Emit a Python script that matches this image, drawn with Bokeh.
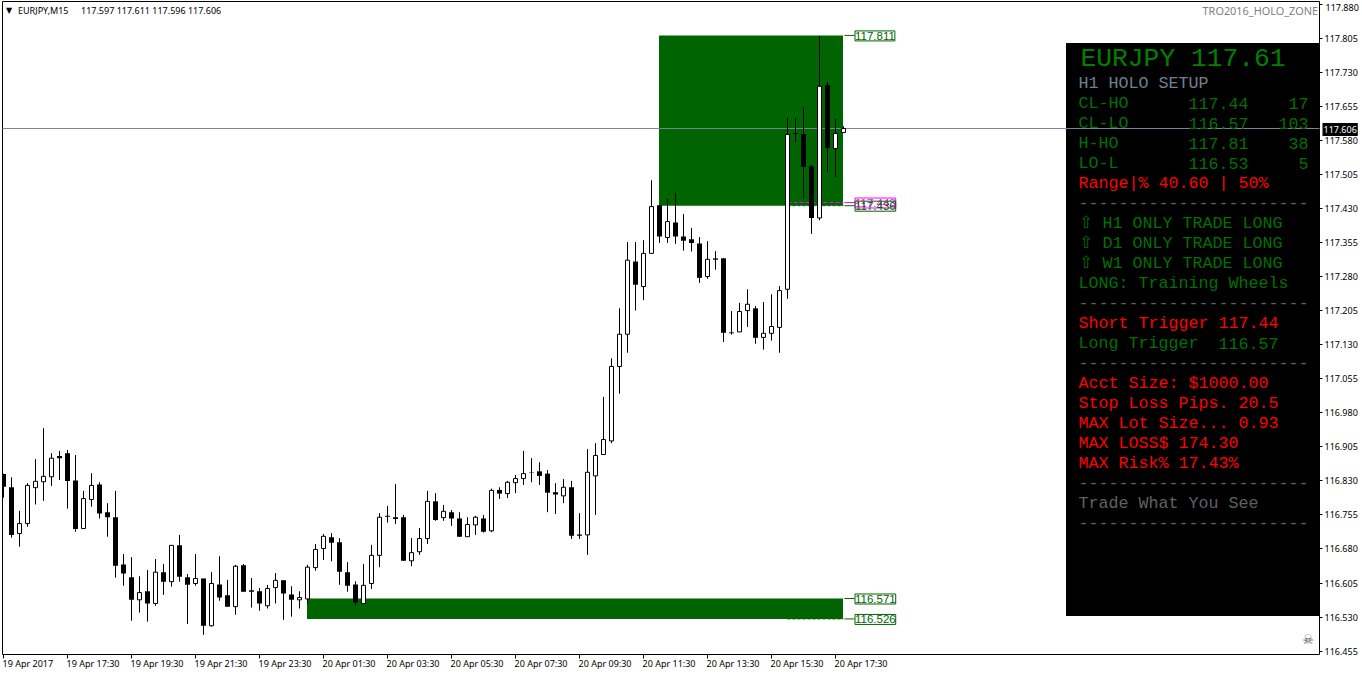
from bokeh.embed import file_html
from bokeh.resources import INLINE
from bokeh.plotting import figure
from bokeh.models import FixedTicker, Label, NumeralTickFormatter

opens = [116.845,116.816,116.714,116.736,116.815,116.828,116.839,116.885,116.891,116.831,116.725,116.789,116.822,116.761,116.750,116.646,116.618,116.568,116.587,116.560,116.629,116.608,116.688,116.618,116.604,116.615,116.511,116.602,116.578,116.553,116.644,116.589,116.587,116.555,116.595,116.611,116.580,116.568,116.570,116.639,
 116.681,116.706,116.695,116.629,116.602,116.560,116.604,116.666,116.753,116.750,116.750,116.654,116.674,116.703,116.785,116.749,116.761,116.747,116.707,116.733,116.747,116.720,116.810,116.802,116.826,116.835,116.849,116.851,116.846,116.805,116.797,116.816,116.712,116.711,116.841,116.888,116.918,117.082,117.153,117.313,117.258,117.331,
 117.437,117.366,117.399,117.368,117.362,117.353,117.280,117.320,117.320,117.157,117.158,117.205,117.210,117.146,117.155,117.168,117.252,117.596,117.594,117.523,117.409,117.702,117.562,117.597]
highs = [116.846,116.838,116.764,116.825,116.878,116.946,116.891,116.896,116.898,116.887,116.808,116.847,116.827,116.781,116.808,116.669,116.662,116.620,116.634,116.658,116.647,116.688,116.711,116.625,116.669,116.615,116.629,116.664,116.612,116.645,116.647,116.616,116.594,116.601,116.627,116.611,116.598,116.587,116.645,116.691,
 116.713,116.715,116.704,116.651,116.609,116.647,116.689,116.759,116.775,116.823,116.755,116.704,116.726,116.808,116.803,116.777,116.766,116.761,116.750,116.753,116.755,116.813,116.816,116.830,116.843,116.896,116.880,116.871,116.854,116.825,116.834,116.830,116.759,116.900,116.913,117.015,117.100,117.210,117.356,117.356,117.360,117.492,
 117.437,117.451,117.464,117.418,117.387,117.367,117.358,117.336,117.321,117.204,117.222,117.252,117.215,117.224,117.241,117.259,117.629,117.629,117.653,117.526,117.810,117.708,117.627,117.611]
lows = [116.793,116.705,116.685,116.729,116.778,116.786,116.819,116.832,116.769,116.718,116.725,116.773,116.747,116.707,116.617,116.599,116.522,116.540,116.520,116.555,116.579,116.597,116.608,116.515,116.599,116.491,116.509,116.566,116.553,116.535,116.586,116.551,116.544,116.549,116.560,116.524,116.531,116.549,116.560,116.632,
 116.656,116.653,116.601,116.586,116.555,116.560,116.592,116.640,116.738,116.735,116.654,116.642,116.667,116.691,116.742,116.742,116.731,116.707,116.707,116.711,116.716,116.717,116.790,116.792,116.803,116.821,116.827,116.821,116.761,116.757,116.781,116.702,116.702,116.667,116.755,116.888,116.913,117.022,117.112,117.205,117.228,117.331,
 117.354,117.354,117.352,117.337,117.335,117.266,117.275,117.295,117.136,117.152,117.158,117.169,117.132,117.119,117.139,117.112,117.231,117.576,117.451,117.374,117.404,117.512,117.499,117.596]
closes = [116.817,116.711,116.736,116.820,116.829,116.840,116.880,116.880,116.830,116.724,116.791,116.820,116.758,116.750,116.643,116.626,116.568,116.584,116.560,116.629,116.608,116.688,116.619,116.601,116.615,116.511,116.604,116.573,116.553,116.642,116.586,116.586,116.560,116.593,116.611,116.582,116.568,116.573,116.640,116.679,
 116.708,116.694,116.630,116.599,116.562,116.600,116.666,116.750,116.751,116.746,116.654,116.672,116.703,116.785,116.744,116.763,116.747,116.707,116.734,116.750,116.718,116.809,116.802,116.827,116.835,116.846,116.848,116.841,116.804,116.800,116.816,116.709,116.709,116.849,116.886,116.921,117.082,117.153,117.316,117.262,117.331,117.434,
 117.368,117.401,117.368,117.359,117.354,117.277,117.318,117.317,117.156,117.155,117.203,117.219,117.145,117.155,117.170,117.249,117.593,117.594,117.521,117.409,117.699,117.563,117.595,117.606]

y_ticks = [117.880,117.805,117.730,117.655,117.580,117.505,117.430,117.355,117.280,117.205,117.130,117.055,116.980,116.905,116.830,116.755,116.680,116.605,116.530,116.455]
x_tick_idx = [0,8,16,24,32,40,48,56,64,72,80,88,96,104]
x_tick_labels = ["19 Apr 2017","19 Apr 17:30","19 Apr 19:30","19 Apr 21:30","19 Apr 23:30","20 Apr 01:30","20 Apr 03:30","20 Apr 05:30","20 Apr 07:30","20 Apr 09:30","20 Apr 11:30","20 Apr 13:30","20 Apr 15:30","20 Apr 17:30"]

upper_zone = (117.811, 117.436)
lower_zone = (116.571, 116.526)
upper_zone_start, lower_zone_start, zone_end = 82, 38, 105
bid = 117.606
magenta_level = 117.443
level_lines_start = 98

TXT_GREEN = "#007000"
panel_rows = [
    ("H1 HOLO SETUP", 82.5, "#708090", 0),
    ("CL-HO", 102.5, TXT_GREEN, 0), ("117.44", 102.5, TXT_GREEN, 11), ("17", 102.5, TXT_GREEN, 21),
    ("CL-LO", 122.5, TXT_GREEN, 0), ("116.57", 122.5, TXT_GREEN, 11), ("103", 122.5, TXT_GREEN, 20),
    ("H-HO", 142.5, TXT_GREEN, 0), ("117.81", 142.5, TXT_GREEN, 11), ("38", 142.5, TXT_GREEN, 21),
    ("LO-L", 162.5, TXT_GREEN, 0), ("116.53", 162.5, TXT_GREEN, 11), ("5", 162.5, TXT_GREEN, 22),
    ("Range|% 40.60 | 50%", 182.5, "#ff0000", 0),
    ("-----------------------", 202, "#606060", 0),
    ("\u21e7 H1 ONLY TRADE LONG", 222.5, TXT_GREEN, 0),
    ("\u21e7 D1 ONLY TRADE LONG", 242.5, TXT_GREEN, 0),
    ("\u21e7 W1 ONLY TRADE LONG", 262.5, TXT_GREEN, 0),
    ("LONG: Training Wheels", 282.5, TXT_GREEN, 0),
    ("-----------------------", 302, "#606060", 0),
    ("Short Trigger 117.44", 322.5, "#ff0000", 0),
    ("Long Trigger", 342.5, TXT_GREEN, 0), ("116.57", 342.5, TXT_GREEN, 14),
    ("-----------------------", 362, "#606060", 0),
    ("Acct Size: $1000.00", 382.5, "#ff0000", 0),
    ("Stop Loss Pips. 20.5", 402.5, "#ff0000", 0),
    ("MAX Lot Size... 0.93", 422.5, "#ff0000", 0),
    ("MAX LOSS$ 174.30", 442.5, "#ff0000", 0),
    ("MAX Risk% 17.43%", 462.5, "#ff0000", 0),
    ("-----------------------", 482, "#606060", 0),
    ("Trade What You See", 502.5, "#606060", 0),
    ("-----------------------", 521.5, "#606060", 0),
]

# ---- layout: frame starts at page pixel (2, 1); drawing carries a half-pixel offset
XMIN = -0.125
PX_PER_BAR = 8.0
YMAX = 117.88567
PX_PER_PRICE = 454.1
FRAME_W, FRAME_H = 1317, 653
def X(px): return XMIN + (px - 2.5) / PX_PER_BAR
def Y(py): return YMAX - (py - 1.5) / PX_PER_PRICE

MONO = "Liberation Mono"
UI = "Noto Sans"
UI_SIZE = "9px"
GREEN = "#006400"

p = figure(frame_width=FRAME_W, frame_height=FRAME_H, output_backend="svg", toolbar_location=None,
           x_range=(XMIN, XMIN + FRAME_W / PX_PER_BAR), y_range=(YMAX - FRAME_H / PX_PER_PRICE, YMAX),
           x_axis_location="below", y_axis_location="right",
           min_border_left=2, min_border_right=43, min_border_top=1, min_border_bottom=21,
           background_fill_color="white", border_fill_color="white",
           outline_line_color="black", outline_line_width=1)
p.grid.visible = False

xa = p.xaxis[0]
xa.ticker = FixedTicker(ticks=x_tick_idx)
xa.major_label_overrides = {k: "" for k in x_tick_idx}
xa.major_tick_out = 4
xa.major_tick_in = 0
xa.minor_tick_line_color = None
xa.axis_line_color = None

ya = p.yaxis[0]
ya.ticker = FixedTicker(ticks=y_ticks)
ya.formatter = NumeralTickFormatter(format="0.000")
ya.major_label_overrides = {y_ticks[0]: ""}
ya.major_label_text_font = UI
ya.major_label_text_font_size = UI_SIZE
ya.major_label_text_color = "black"
ya.major_label_standoff = 2
ya.major_tick_out = 3
ya.major_tick_in = 0
ya.minor_tick_line_color = None
ya.axis_line_color = None

# zones
half_px = 0.5 / PX_PER_BAR
p.quad(left=[upper_zone_start - half_px, lower_zone_start - half_px], right=[zone_end - half_px] * 2,
       top=[upper_zone[0], lower_zone[0]], bottom=[upper_zone[1], lower_zone[1]],
       fill_color=GREEN, line_color=None)
# info panel
p.quad(left=[X(1066)], right=[X(1320)], top=[Y(43)], bottom=[Y(616)], fill_color="black", line_color=None)
# bid line
p.segment(x0=[X(2)], x1=[X(1320)], y0=[bid], y1=[bid], line_color="#778899", line_width=1)

# level lines
p.segment(x0=[level_lines_start], x1=[zone_end], y0=[magenta_level], y1=[magenta_level],
          line_color="#ff00ff", line_width=1, line_dash="4 2")
dark_levels = [upper_zone[1], lower_zone[1]]
p.segment(x0=[level_lines_start] * 2, x1=[zone_end] * 2, y0=dark_levels, y1=dark_levels,
          line_color=GREEN, line_width=1, line_dash="3 2")
# leaders to tags
lead0, lead1 = zone_end + 1 / 8, zone_end + 11 / 8
tag_levels = [upper_zone[0], upper_zone[1], lower_zone[0], lower_zone[1]]
p.segment(x0=[lead0] * 4, x1=[lead1] * 4, y0=tag_levels, y1=tag_levels, line_color=GREEN, line_width=1)
p.segment(x0=[lead0], x1=[lead1], y0=[magenta_level], y1=[magenta_level], line_color="#ff00ff", line_width=1)

# candles
idx = list(range(len(opens)))
p.segment(x0=idx, x1=idx, y0=lows, y1=highs, line_color="black", line_width=1)
up = [i for i in idx if closes[i] > opens[i]]
dn = [i for i in idx if closes[i] <= opens[i]]
p.vbar(x=dn, width=5 / PX_PER_BAR, top=[opens[i] for i in dn], bottom=[closes[i] for i in dn],
       fill_color="black", line_color=None)
p.vbar(x=up, width=4 / PX_PER_BAR, top=[closes[i] for i in up], bottom=[opens[i] for i in up],
       fill_color="white", line_color="black", line_width=1)

# panel text
p.add_layout(Label(x=X(1080.5), y=Y(58.5), text="EURJPY 117.61", text_color="#008000", text_font=MONO,
                   text_font_size="26.3px", text_align="left", text_baseline="middle"))
for text, py, color, col in panel_rows:
    p.add_layout(Label(x=X(1078.5 + 10 * col), y=Y(py + 0.5), text=text, text_color=color,
                       text_font=MONO, text_font_size="16.67px",
                       text_align="left", text_baseline="middle"))

# zone price tags
for value, color in [(magenta_level, "#ff00ff"), (upper_zone[0], GREEN), (upper_zone[1], GREEN),
                     (lower_zone[0], GREEN), (lower_zone[1], GREEN)]:
    p.add_layout(Label(x=X(855), y=value - 0.5 / PX_PER_PRICE, text=f"{value:.3f}", text_color=color,
                       text_font="Liberation Sans", text_font_size="11.5px",
                       text_align="left", text_baseline="middle", padding=(0, 1),
                       border_line_color=color, border_line_width=1, background_fill_color=None))

# current price tag and the topmost scale caption, in the right side panel
p.add_layout(Label(x=1322, y=129, x_units="canvas", y_units="canvas", text=f"{bid:.3f}", text_color="white",
                   text_font=UI, text_font_size=UI_SIZE, text_align="left", text_baseline="middle",
                   padding=(1, 3), background_fill_color="black"), "right")
p.add_layout(Label(x=1325, y=6.5, x_units="canvas", y_units="canvas", text=f"{y_ticks[0]:.3f}", text_color="black",
                   text_font=UI, text_font_size=UI_SIZE, text_align="left", text_baseline="middle"), "right")

# x tick captions, left-aligned on their ticks
for k, text in zip(x_tick_idx, x_tick_labels):
    p.add_layout(Label(x=2 + 8 * k, y=663, x_units="canvas", y_units="canvas", text=text, text_color="black",
                       text_font=UI, text_font_size=UI_SIZE, text_align="left", text_baseline="middle"), "below")

# chart captions
p.add_layout(Label(x=X(6), y=Y(10), text="\u25bc", text_color="black", text_font="DejaVu Sans",
                   text_font_size="8px", text_align="left", text_baseline="middle"))
p.add_layout(Label(x=X(18), y=Y(10), text="EURJPY,M15", text_color="black",
                   text_font=UI, text_font_size=UI_SIZE, text_align="left", text_baseline="middle"))
p.add_layout(Label(x=X(81), y=Y(10), text="117.597 117.611 117.596 117.606", text_color="black",
                   text_font=UI, text_font_size=UI_SIZE, text_align="left", text_baseline="middle"))
p.add_layout(Label(x=X(1318), y=Y(10.5), text="TRO2016_HOLO_ZONE", text_color="#808080",
                   text_font=UI, text_font_size="10.9px", text_align="right", text_baseline="middle"))
p.add_layout(Label(x=X(1308), y=Y(639.5), text="\u2620", text_color="#4a5560",
                   text_font="DejaVu Sans", text_font_size="13px", text_align="center", text_baseline="middle"))

open("out.html", "w").write(file_html(p, INLINE))
